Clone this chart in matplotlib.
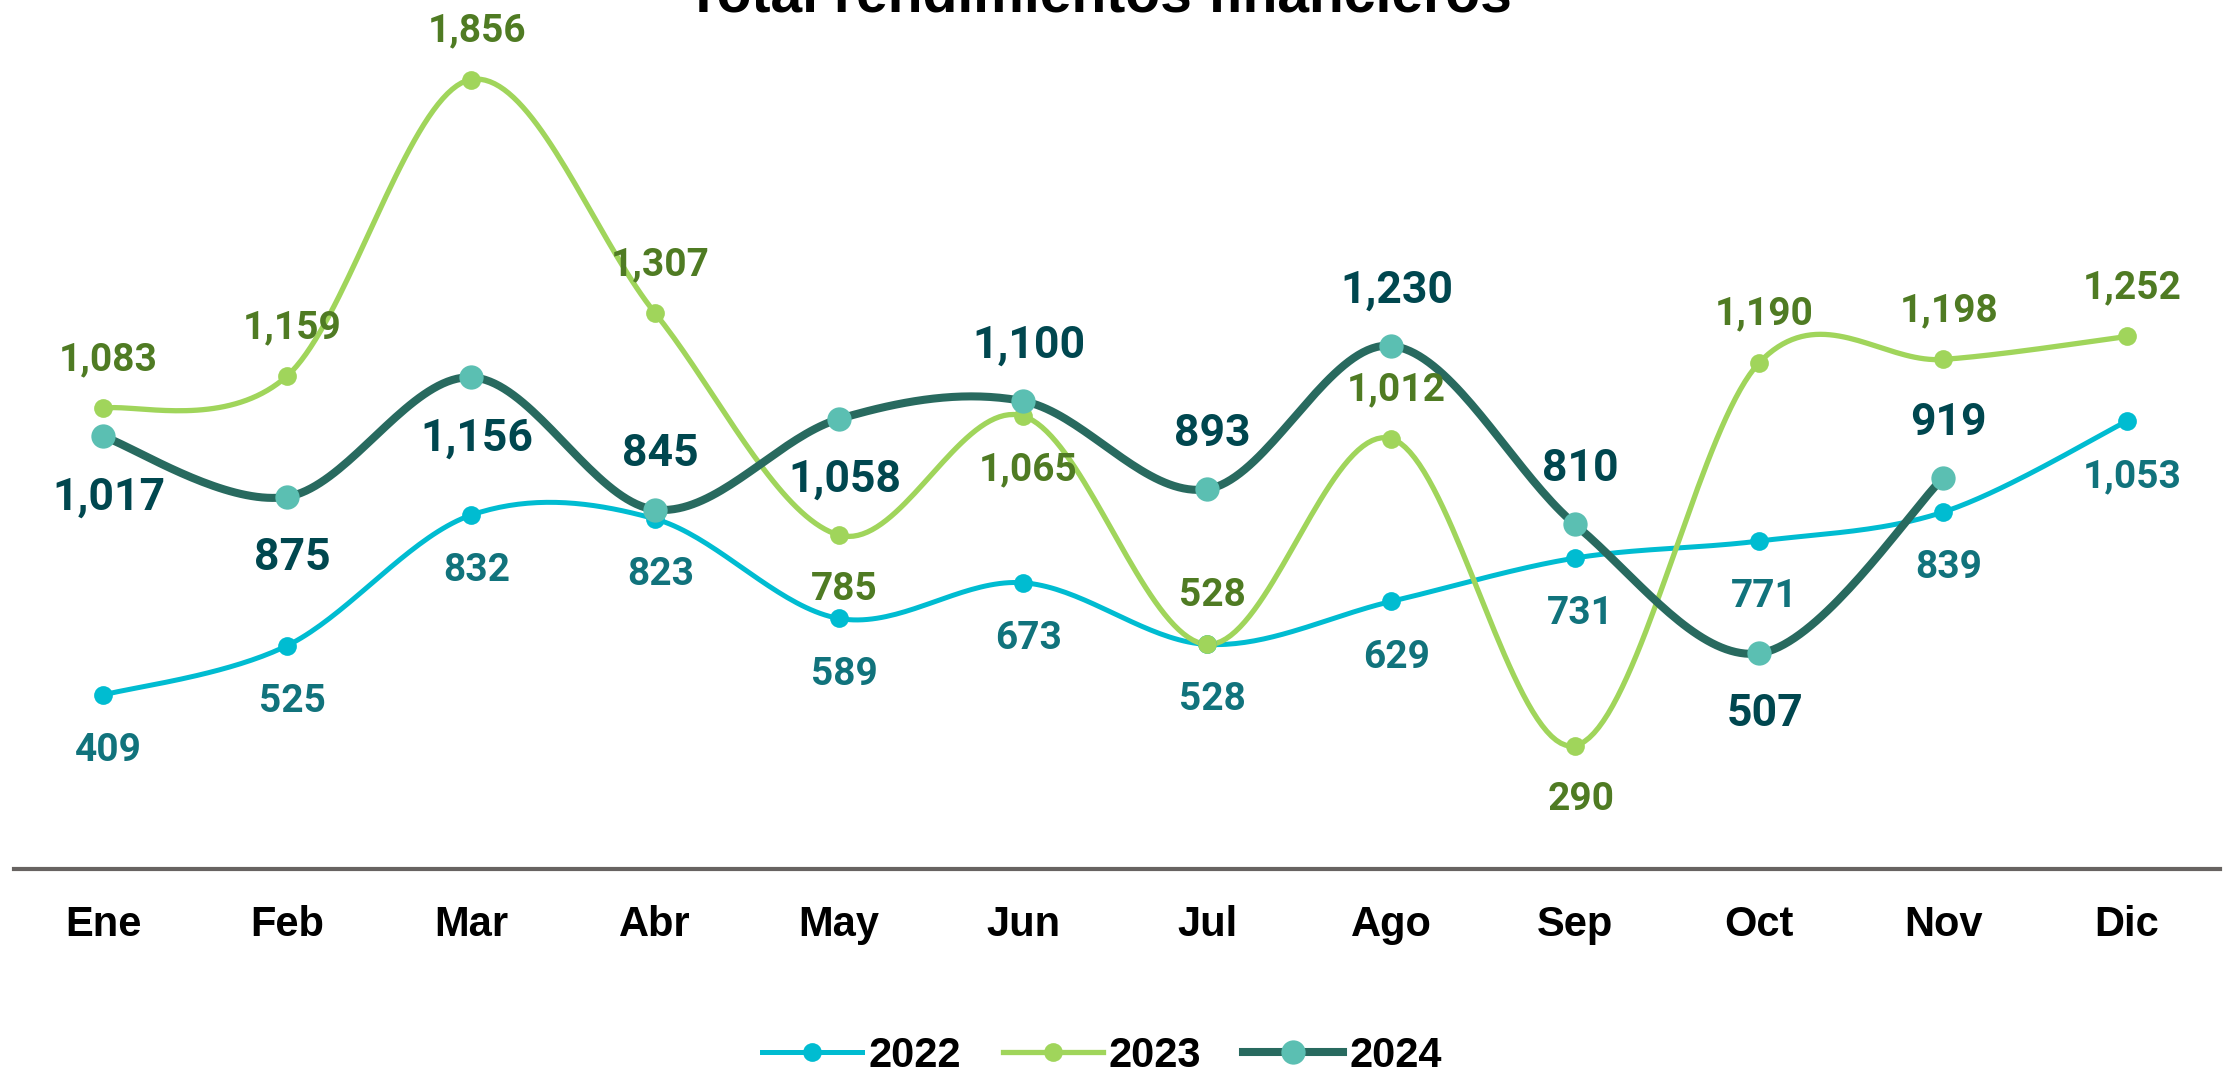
import numpy as np
import matplotlib
matplotlib.use("Agg")
import matplotlib.pyplot as plt
from matplotlib.lines import Line2D

# data
months = ["Ene", "Feb", "Mar", "Abr", "May", "Jun", "Jul", "Ago", "Sep", "Oct", "Nov", "Dic"]
v2022 = [409, 525, 832, 823, 589, 673, 528, 629, 731, 771, 839, 1053]
v2023 = [1083, 1159, 1856, 1307, 785, 1065, 528, 1012, 290, 1190, 1198, 1252]
v2024 = [1017, 875, 1156, 845, 1058, 1100, 893, 1230, 810, 507, 919]

# label side: 1 above, -1 below
side2022 = [-1] * 12
side2023 = [1, 1, 1, 1, -1, -1, 1, 1, -1, 1, 1, 1]
side2024 = [-1, -1, -1, 1, -1, 1, 1, 1, 1, -1, 1]

LABEL_FONT = ["Roboto", "DejaVu Sans"]
NARROW_FONT = ["Liberation Sans Narrow", "Liberation Sans", "DejaVu Sans"]


def smooth(y, n=40):
    # excel-like smoothed line (bezier with 1/6 tangents)
    pts = np.column_stack([np.arange(len(y)), np.array(y, dtype=float)])
    out = []
    for i in range(len(pts) - 1):
        p0 = pts[i - 1] if i > 0 else pts[i]
        p1 = pts[i]
        p2 = pts[i + 1]
        p3 = pts[i + 2] if i + 2 < len(pts) else pts[i + 1]
        c1 = p1 + (p2 - p0) / 6
        c2 = p2 - (p3 - p1) / 6
        t = np.linspace(0, 1, n)[:, None]
        seg = (1 - t) ** 3 * p1 + 3 * (1 - t) ** 2 * t * c1 + 3 * (1 - t) * t ** 2 * c2 + t ** 3 * p2
        out.append(seg if i == 0 else seg[1:])
    out = np.vstack(out)
    return out[:, 0], out[:, 1]


fig = plt.figure(figsize=(22.38, 10.70), dpi=100)
ax = fig.add_axes([14 / 2238, 1 - 869 / 1070, (2220 - 14) / 2238, 869 / 1070])
ax.set_xlim(-0.484, 11.505)
ax.set_ylim(0, 2043)

series = [
    (v2022, side2022, "#00BCD1", "#00BCD1", "#11737C", 3.6, 13.5, 28, 38),
    (v2023, side2023, "#A0D55B", "#A0D55B", "#4F7B23", 3.8, 13.5, 28, 37),
    (v2024, side2024, "#286A5F", "#5BBFB2", "#00474F", 5.8, 17.5, 32, 42),
]

for vals, sides, lc, mc, tc, lw, ms, fs, off in series:
    xs, ys = smooth(vals)
    ax.plot(xs, ys, color=lc, lw=lw, solid_capstyle="round", zorder=2)
    ax.plot(range(len(vals)), vals, "o", color=mc, ms=ms, mec="none", zorder=3)
    for i, v in enumerate(vals):
        ax.annotate(f"{v:,}", (i, v), xytext=(4, off * sides[i] - 2), textcoords="offset points",
                    ha="center", va="center", color=tc, fontsize=fs, fontweight="bold",
                    family=LABEL_FONT, zorder=4)

for s in ["top", "left", "right"]:
    ax.spines[s].set_visible(False)
ax.spines["bottom"].set_color("#676361")
ax.spines["bottom"].set_linewidth(3)
ax.set_yticks([])
ax.set_xticks(range(12))
ax.set_xticklabels(months, fontsize=30, fontweight="bold", family=NARROW_FONT)
ax.tick_params(axis="x", length=0, pad=26)
ax.patch.set_visible(False)

fig.text(1099 / 2238, 1 - 11 / 1070, "Total rendimientos financieros", ha="center", va="baseline",
         fontsize=41, fontweight="bold", family=NARROW_FONT)

handles = [
    Line2D([], [], color="#00BCD1", lw=3.6, marker="o", ms=13.5, mfc="#00BCD1", mec="none"),
    Line2D([], [], color="#A0D55B", lw=3.8, marker="o", ms=13.5, mfc="#A0D55B", mec="none"),
    Line2D([], [], color="#286A5F", lw=5.8, marker="o", ms=17.5, mfc="#5BBFB2", mec="none"),
]
leg = fig.legend(handles, ["2022", "2023", "2024"], loc="center", ncol=3,
                 bbox_to_anchor=(1102 / 2238, 1 - 1056 / 1070), frameon=False,
                 prop={"family": NARROW_FONT, "weight": "bold", "size": 30},
                 handlelength=2.4, handletextpad=0.15, columnspacing=1.0, borderpad=0)

fig.savefig("out.png", dpi=100)
